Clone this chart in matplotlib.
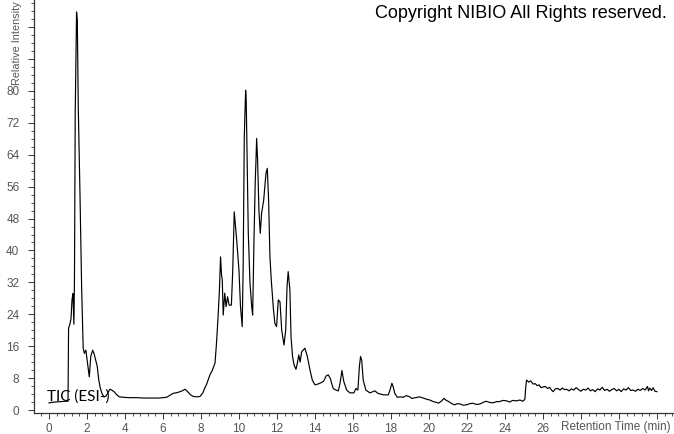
import matplotlib
matplotlib.use("Agg")
import matplotlib.pyplot as plt
from matplotlib.ticker import MultipleLocator, FixedLocator

# retention time (min) and relative intensity of the TIC trace
time = [0.0, 0.3, 0.6, 0.9, 1.0, 1.03, 1.1, 1.16, 1.21, 1.26, 1.31, 1.34, 1.38, 1.45, 1.49,
        1.54, 1.63, 1.72, 1.8, 1.86, 1.94, 2.05, 2.12, 2.2, 2.3, 2.38, 2.46, 2.54, 2.62, 2.7,
        2.8, 2.9, 3.0, 3.1, 3.2, 3.3, 3.42, 3.55, 3.7, 3.9, 4.2, 4.6, 5.0, 5.4, 5.8,
        6.2, 6.4, 6.55, 6.7, 6.9, 7.05, 7.16, 7.3, 7.45, 7.6, 7.8, 7.95, 8.1, 8.2, 8.3,
        8.47, 8.6, 8.74, 8.82, 8.9, 8.97, 9.03, 9.08, 9.12, 9.17, 9.25, 9.32, 9.4, 9.48, 9.6,
        9.67, 9.75, 9.82, 9.88, 9.95, 10.0, 10.08, 10.17, 10.22, 10.28, 10.35, 10.38, 10.42, 10.49, 10.58,
        10.67, 10.72, 10.79, 10.86, 10.89, 10.93, 10.98, 11.05, 11.12, 11.19, 11.3, 11.42, 11.49, 11.56, 11.63,
        11.7, 11.81, 11.89, 11.98, 12.07, 12.16, 12.25, 12.37, 12.46, 12.53, 12.59, 12.68, 12.74, 12.82, 12.9,
        13.0, 13.07, 13.15, 13.22, 13.3, 13.47, 13.6, 13.74, 13.86, 14.0, 14.15, 14.3, 14.45, 14.6, 14.7,
        14.8, 14.96, 15.1, 15.23, 15.32, 15.42, 15.52, 15.67, 15.84, 16.05, 16.16, 16.26, 16.34, 16.4, 16.46,
        16.54, 16.68, 16.89, 17.05, 17.16, 17.3, 17.45, 17.6, 17.86, 17.95, 18.05, 18.12, 18.2, 18.33, 18.5,
        18.65, 18.8, 18.95, 19.1, 19.3, 19.5, 19.7, 19.88, 20.05, 20.23, 20.4, 20.5, 20.65, 20.79, 20.92,
        21.05, 21.2, 21.35, 21.5, 21.65, 21.8, 21.98, 22.15, 22.3, 22.5, 22.68, 22.85, 23.0, 23.2, 23.38,
        23.55, 23.7, 23.9, 24.09, 24.25, 24.4, 24.6, 24.79, 24.95, 25.05, 25.1, 25.14, 25.25, 25.35, 25.49,
        25.6, 25.7, 25.8, 25.9, 26.02, 26.12, 26.25, 26.35, 26.45, 26.54, 26.65, 26.78, 26.9, 27.02, 27.15,
        27.25, 27.38, 27.5, 27.62, 27.75, 27.88, 28.0, 28.12, 28.25, 28.38, 28.5, 28.62, 28.75, 28.88, 29.0,
        29.12, 29.25, 29.38, 29.5, 29.62, 29.75, 29.88, 30.0, 30.12, 30.25, 30.38, 30.5, 30.62, 30.75, 30.88,
        31.0, 31.12, 31.25, 31.38, 31.5, 31.56, 31.62, 31.72, 31.8, 31.9, 32.0]
intensity = [1.8, 2.0, 2.1, 2.2, 2.2, 20.5, 21.5, 23.0, 27.6, 29.2, 21.5, 32.6, 74.4, 99.8, 97.7,
             76.0, 54.3, 30.1, 15.5, 14.2, 15.0, 11.0, 8.3, 13.5, 15.0, 14.0, 12.5, 10.9, 7.5, 5.5,
             4.0, 3.3, 3.5, 4.3, 5.2, 5.0, 4.6, 3.9, 3.3, 3.2, 3.1, 3.1, 3.0, 3.0, 3.0,
             3.2, 3.8, 4.2, 4.3, 4.6, 4.9, 5.2, 4.6, 3.8, 3.4, 3.3, 3.4, 4.3, 5.5, 6.5,
             8.8, 10.0, 11.8, 17.0, 23.4, 30.0, 38.4, 34.0, 32.6, 23.8, 29.3, 25.9, 28.4, 26.3, 26.3,
             34.7, 49.7, 46.0, 42.6, 38.0, 35.0, 25.9, 20.9, 35.9, 68.5, 80.2, 78.0, 65.2, 44.4, 31.8,
             25.9, 23.8, 42.6, 58.0, 61.8, 68.1, 62.7, 50.1, 44.3, 49.3, 52.6, 59.3, 60.6, 52.6, 38.4,
             32.6, 25.5, 21.7, 20.9, 27.6, 27.1, 20.0, 16.3, 20.0, 30.9, 34.7, 30.1, 18.4, 13.4, 11.3,
             10.2, 11.7, 13.8, 12.0, 14.6, 15.5, 13.4, 10.0, 7.5, 6.3, 6.5, 6.8, 7.2, 8.6, 8.8,
             8.0, 5.4, 5.0, 4.8, 6.7, 9.9, 7.1, 5.0, 4.3, 4.3, 5.4, 5.0, 11.0, 13.4, 12.5,
             7.5, 5.0, 4.3, 4.6, 4.8, 4.2, 4.0, 3.8, 3.8, 5.0, 6.7, 5.8, 4.2, 3.2, 3.3,
             3.2, 3.6, 3.4, 2.9, 3.1, 3.3, 3.0, 2.7, 2.5, 2.1, 1.9, 1.7, 2.2, 2.9, 2.4,
             2.1, 1.6, 1.3, 1.6, 1.5, 1.2, 1.3, 1.6, 1.7, 1.4, 1.5, 1.9, 2.2, 1.9, 1.8,
             2.1, 2.1, 2.4, 2.3, 2.0, 2.4, 2.3, 2.5, 2.2, 2.7, 6.0, 7.5, 7.0, 7.3, 6.5,
             6.6, 6.1, 6.3, 5.6, 5.8, 5.9, 5.4, 5.7, 5.0, 4.6, 5.3, 5.4, 5.0, 5.5, 5.1,
             5.2, 4.8, 5.3, 5.0, 5.6, 5.1, 4.7, 5.2, 5.0, 5.5, 4.8, 5.1, 4.6, 5.3, 5.0,
             5.7, 4.9, 5.2, 4.7, 5.1, 5.4, 4.8, 5.2, 4.6, 5.3, 5.0, 5.6, 4.9, 5.0, 4.7,
             5.2, 4.9, 5.4, 5.0, 5.9, 4.8, 5.5, 4.9, 5.6, 4.7, 4.6]

x_ticks = list(range(0, 34, 2))
x_labels = [str(v) if v <= 26 else '' for v in x_ticks]
y_ticks = list(range(0, 104, 8))
y_labels = [str(v) if v <= 80 else '' for v in y_ticks]

plt.rcParams['font.family'] = ['Liberation Sans', 'DejaVu Sans']
grey = '#555555'

fig = plt.figure(figsize=(6.74, 4.34), dpi=100)
ax = fig.add_axes([34 / 674, 21 / 434, 640 / 674, 413 / 434])
ax.plot(time, intensity, color='black', lw=0.85)

ax.set_xlim(-0.79, 32.9)
ax.set_ylim(-0.75, 102.8)
ax.spines['top'].set_visible(False)
ax.spines['right'].set_visible(False)
for s in ('left', 'bottom'):
    ax.spines[s].set_color('#333333')
    ax.spines[s].set_linewidth(0.9)

ax.xaxis.set_major_locator(FixedLocator(x_ticks))
ax.set_xticklabels(x_labels)
ax.xaxis.set_minor_locator(MultipleLocator(0.4))
ax.yaxis.set_major_locator(FixedLocator(y_ticks))
ax.set_yticklabels(y_labels)
ax.yaxis.set_minor_locator(MultipleLocator(2))
ax.tick_params(which='major', length=4.5, width=0.7, color='#333333',
               labelsize=8.5, labelcolor=grey, pad=3)
ax.tick_params(which='minor', length=2.2, width=0.6, color='#333333')
ax.tick_params(axis='y', pad=6)

fig.text(671 / 674, 1 - 427 / 434, 'Retention Time (min)', ha='right', va='center',
         fontsize=8.5, color=grey)
fig.text(17 / 674, 1 - 1 / 434, 'Relative Intensity', rotation=90, ha='center',
         va='top', fontsize=7.8, color=grey)
fig.text(667 / 674, 1 - 14 / 434, 'Copyright NIBIO All Rights reserved.', ha='right',
         va='center', fontsize=13, color='black')
ax.text(-0.1, 1.6, 'TIC (ESI-)', fontsize=11, family=['Lato', 'DejaVu Sans'],
        color='black', ha='left', va='bottom')

fig.savefig('out.png', dpi=100)
